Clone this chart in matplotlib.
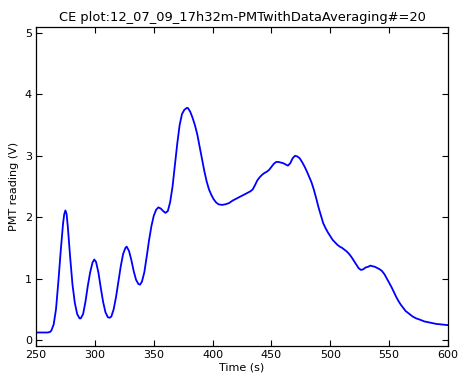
import matplotlib
matplotlib.use("Agg")
import matplotlib.pyplot as plt

# PMT trace, averaged over 20 samples
time_s = [250, 255, 260, 262, 263, 265, 267, 269, 271, 273, 274, 275, 276, 277,
          279, 281, 283, 285, 287, 288, 290, 292, 294, 296, 298, 299.5, 301,
          303, 305, 307, 309, 311, 312.6, 314, 316, 318, 320, 322, 324, 326,
          327, 329, 331, 333, 335, 337, 338.4, 340, 342, 344, 346, 348, 350,
          352, 354, 356, 358, 360, 362, 364, 366, 368, 370, 372, 374, 376, 378,
          379, 381, 383, 385, 387, 389, 391, 393, 395, 397, 399, 401, 403, 405,
          408, 411, 414, 417, 420, 423, 426, 429, 432, 434, 436, 438, 440, 442,
          444, 446, 448, 450, 452, 454, 456, 458, 460, 462, 464, 466, 468, 470,
          472, 474, 476, 478, 480, 482, 484, 486, 488, 490, 492, 494, 496, 498,
          500, 502, 504, 506, 508, 510, 512, 514, 516, 518, 520, 522, 524, 526,
          528, 530, 532, 534, 536, 538, 540, 542, 544, 546, 548, 550, 552, 554,
          556, 558, 560, 562, 564, 566, 568, 570, 573, 576, 580, 585, 590, 595,
          600]
pmt_v = [0.12, 0.12, 0.12, 0.13, 0.15, 0.25, 0.5, 0.95, 1.45, 1.9, 2.05, 2.11,
         2.05, 1.85, 1.35, 0.9, 0.6, 0.42, 0.35, 0.35, 0.42, 0.62, 0.88, 1.1,
         1.26, 1.31, 1.27, 1.1, 0.85, 0.62, 0.45, 0.37, 0.36, 0.38, 0.5, 0.7,
         0.95, 1.2, 1.4, 1.5, 1.52, 1.45, 1.3, 1.12, 0.98, 0.91, 0.9, 0.95, 1.1,
         1.35, 1.62, 1.85, 2.02, 2.12, 2.16, 2.14, 2.1, 2.07, 2.1, 2.25, 2.5,
         2.85, 3.2, 3.5, 3.68, 3.75, 3.78, 3.78, 3.72, 3.62, 3.5, 3.35, 3.15,
         2.95, 2.75, 2.58, 2.45, 2.36, 2.29, 2.24, 2.21, 2.2, 2.21, 2.23, 2.27,
         2.3, 2.33, 2.36, 2.39, 2.42, 2.45, 2.52, 2.6, 2.65, 2.69, 2.72, 2.74,
         2.77, 2.82, 2.87, 2.9, 2.9, 2.89, 2.88, 2.86, 2.84, 2.88, 2.96, 3.0,
         2.99, 2.96, 2.9, 2.83, 2.75, 2.66, 2.57, 2.45, 2.31, 2.16, 2.03, 1.9,
         1.82, 1.75, 1.69, 1.63, 1.59, 1.55, 1.52, 1.5, 1.47, 1.44, 1.4, 1.35,
         1.29, 1.23, 1.17, 1.14, 1.15, 1.18, 1.19, 1.21, 1.2, 1.19, 1.17, 1.15,
         1.12, 1.07, 1.0, 0.93, 0.86, 0.78, 0.7, 0.63, 0.57, 0.52, 0.47, 0.44,
         0.41, 0.38, 0.35, 0.33, 0.3, 0.28, 0.26, 0.25, 0.24]

x_ticks = [250, 300, 350, 400, 450, 500, 550, 600]
y_ticks = [0, 1, 2, 3, 4, 5]

fig = plt.figure(figsize=(4.58, 3.73), dpi=100)
ax = fig.add_axes([0.0786, 0.0724, 0.8996, 0.8552])
ax.plot(time_s, pmt_v, color='#0000ff', linewidth=1.3)

ax.set_xlim(250, 600)
ax.set_ylim(-0.1, 5.1)
ax.set_xticks(x_ticks)
ax.set_yticks(y_ticks)
ax.tick_params(direction='in', top=True, right=True, labelsize=8, length=4,
               width=0.8, pad=3)
for s in ax.spines.values():
    s.set_linewidth(0.9)

ax.set_xlabel('Time (s)', fontsize=8, labelpad=1.5)
ax.set_ylabel('PMT reading (V)', fontsize=8, labelpad=4)
ax.set_title('CE plot:12_07_09_17h32m-PMTwithDataAveraging#=20', fontsize=9.4, pad=4)

fig.savefig('out.png', dpi=100)
